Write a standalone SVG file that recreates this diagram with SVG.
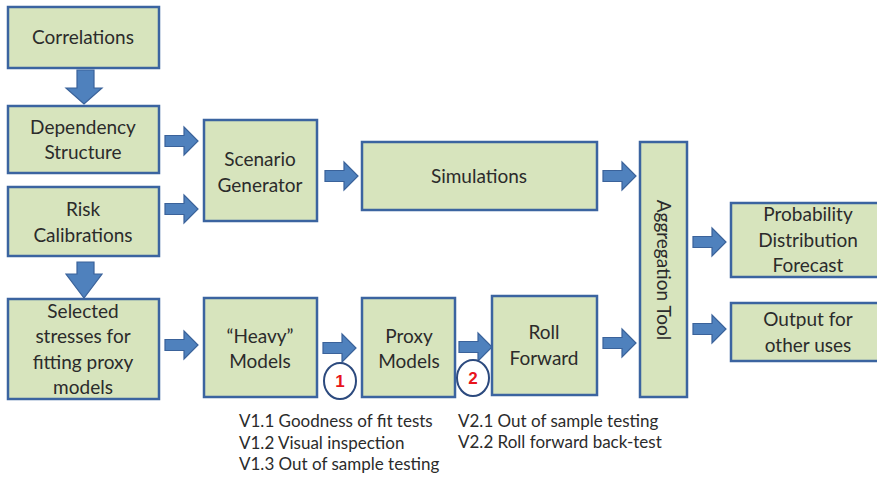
<svg xmlns="http://www.w3.org/2000/svg" width="877" height="478" viewBox="0 0 877 478">
<style>
.box{fill:#d7e4bd;stroke:#3b64a0;stroke-width:2.5}
.t{font-family:Lato,"Open Sans","Liberation Sans",sans-serif;font-size:19px;fill:#2b2b2b;text-anchor:middle}
.n{font-family:Lato,"Open Sans","Liberation Sans",sans-serif;font-size:17px;fill:#2b2b2b}
.arr{fill:#4f81bd;stroke:#3a629a;stroke-width:1.2}
.circ{fill:#fff;stroke:#2c4a7e;stroke-width:2}
.num{font-family:"Liberation Sans",Arial,sans-serif;font-size:17px;font-weight:bold;fill:#e8141b;text-anchor:middle}
</style>
<rect width="877" height="478" fill="#fff"/>
<g id="connectors">
<path class="arr" d="M77,70 H94 V88 H102 L84,104 L66,88 H77 Z"/>
<path class="arr" d="M77,262 H94 V274 H102 L84,298 L66,274 H77 Z"/>
<path class="arr" d="M165,135.5 H184 V127 L198,141 L184,155 V146.5 H165 Z"/>
<path class="arr" d="M165,203.5 H184 V195 L198,209 L184,223 V214.5 H165 Z"/>
<path class="arr" d="M325,170.5 H344 V162 L358,176 L344,190 V181.5 H325 Z"/>
<path class="arr" d="M603,170.5 H622 V162 L636,176 L622,190 V181.5 H603 Z"/>
<path class="arr" d="M165,339.5 H184 V331 L198,345 L184,359 V350.5 H165 Z"/>
<path class="arr" d="M323,342.5 H342 V334 L356,348 L342,362 V353.5 H323 Z"/>
<path class="arr" d="M459,341.5 H478 V333 L492,347 L478,361 V352.5 H459 Z"/>
<path class="arr" d="M603,337.5 H622 V329 L636,343 L622,357 V348.5 H603 Z"/>
<path class="arr" d="M693,236.5 H712 V228 L726,242 L712,256 V247.5 H693 Z"/>
<path class="arr" d="M693,323.5 H712 V315 L726,329 L712,343 V334.5 H693 Z"/>
</g>
<g id="correlations"><rect class="box" x="8" y="7" width="151" height="61"/><text class="t" x="83" y="44">Correlations</text></g>
<g id="dependency"><rect class="box" x="8" y="106" width="151" height="67"/><text class="t" x="83" y="134">Dependency</text><text class="t" x="83" y="159">Structure</text></g>
<g id="risk"><rect class="box" x="8" y="187" width="151" height="69"/><text class="t" x="83" y="216">Risk</text><text class="t" x="83" y="242">Calibrations</text></g>
<g id="scenario"><rect class="box" x="204" y="120" width="113" height="101"/><text class="t" x="260" y="166">Scenario</text><text class="t" x="260" y="192">Generator</text></g>
<g id="simulations"><rect class="box" x="362" y="142" width="235" height="68"/><text class="t" x="479" y="183">Simulations</text></g>
<g id="selected"><rect class="box" x="8" y="299" width="151" height="100"/><text class="t" x="83" y="318">Selected</text><text class="t" x="83" y="343">stresses for</text><text class="t" x="83" y="369">fitting proxy</text><text class="t" x="83" y="394">models</text></g>
<g id="heavy"><rect class="box" x="204" y="298" width="113" height="99"/><text class="t" x="260" y="343">“Heavy”</text><text class="t" x="260" y="368">Models</text></g>
<g id="proxy"><rect class="box" x="362" y="298" width="93" height="99"/><text class="t" x="409" y="343">Proxy</text><text class="t" x="409" y="368">Models</text></g>
<g id="roll"><rect class="box" x="492" y="296" width="105" height="99"/><text class="t" x="544" y="339">Roll</text><text class="t" x="544" y="365">Forward</text></g>
<g id="aggregation"><rect class="box" x="640" y="142" width="47" height="255"/><text class="t" transform="translate(663,270) rotate(90)" y="6">Aggregation Tool</text></g>
<g id="probability"><rect class="box" x="731" y="203" width="152" height="74"/><text class="t" x="808" y="221">Probability</text><text class="t" x="808" y="247">Distribution</text><text class="t" x="808" y="272">Forecast</text></g>
<g id="output"><rect class="box" x="731" y="303" width="152" height="58"/><text class="t" x="808" y="326">Output for</text><text class="t" x="808" y="352">other uses</text></g>
<g id="badge1"><ellipse class="circ" cx="340" cy="381" rx="16" ry="18"/><text class="num" x="340" y="387">1</text></g>
<g id="badge2"><ellipse class="circ" cx="473" cy="378" rx="16" ry="18"/><text class="num" x="473" y="384">2</text></g>
<g id="notes1"><text class="n" x="239" y="427">V1.1 Goodness of fit tests</text><text class="n" x="239" y="449">V1.2 Visual inspection</text><text class="n" x="239" y="470">V1.3 Out of sample testing</text></g>
<g id="notes2"><text class="n" x="458" y="427">V2.1 Out of sample testing</text><text class="n" x="458" y="448">V2.2 Roll forward back-test</text></g>
</svg>
